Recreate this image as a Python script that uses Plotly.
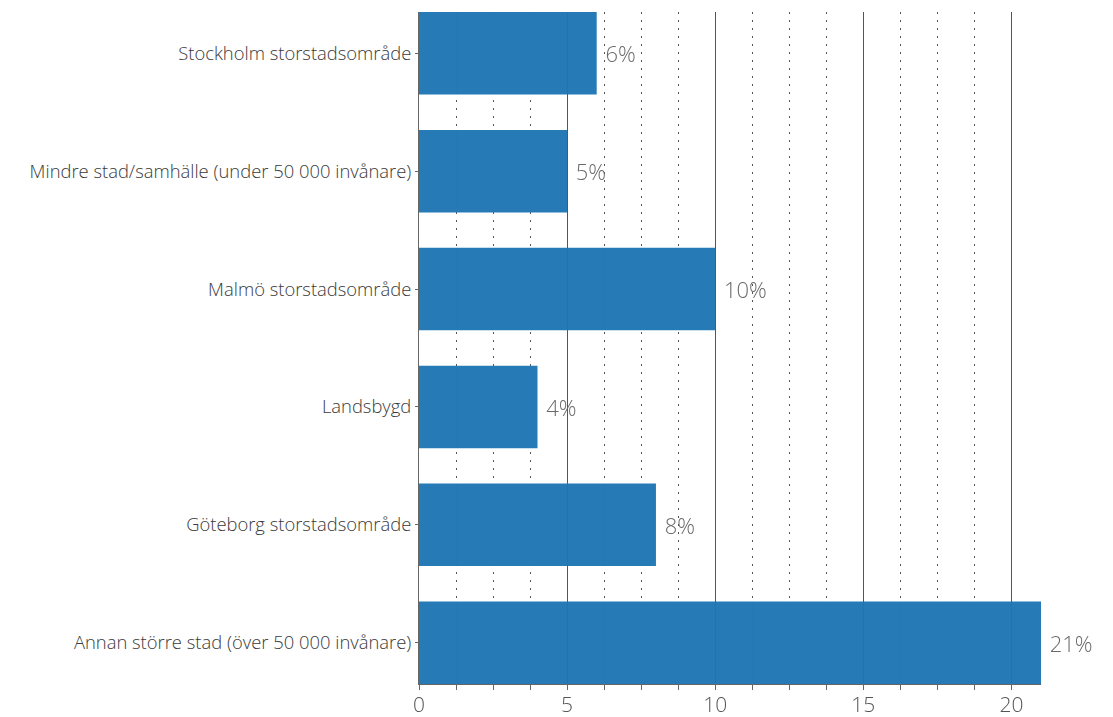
import plotly.graph_objects as go

# Share of respondents per type of residential area (percent), bottom to top
categories = [
    "Annan större stad (över 50 000 invånare)",
    "Göteborg storstadsområde",
    "Landsbygd",
    "Malmö storstadsområde",
    "Mindre stad/samhälle (under 50 000 invånare)",
    "Stockholm storstadsområde",
]
values = [21, 8, 4, 10, 5, 6]
x_ticks = [0, 5, 10, 15, 20]

FONT = "Open Sans"

fig = go.Figure(
    go.Bar(
        y=categories,
        x=values,
        orientation="h",
        marker=dict(color="#1f77b4", line=dict(width=0)),
        opacity=0.97,
        texttemplate="\u00a0%{x}%",
        textposition="outside",
        textfont=dict(family=FONT, size=22, color="#666666", weight=300),
        cliponaxis=False,
        hoverinfo="skip",
    )
)

fig.update_layout(
    width=1113,
    height=717,
    margin=dict(l=419, r=72, t=12, b=33),
    plot_bgcolor="white",
    paper_bgcolor="white",
    bargap=0.3,
    showlegend=False,
    font=dict(family=FONT, color="#444444", weight=300),
)

fig.update_xaxes(
    range=[0, 21],
    tickvals=x_ticks,
    ticks="outside",
    ticklen=5,
    tickcolor="#666666",
    tickfont=dict(family=FONT, size=21, color="#555555", weight=300),
    ticklabelstandoff=-3,
    showline=True,
    linecolor="#666666",
    linewidth=1,
    showgrid=True,
    gridcolor="#555555",
    gridwidth=1,
    zeroline=False,
    automargin=False,
    minor=dict(
        dtick=1.25,
        tick0=0,
        showgrid=True,
        griddash="2px,6px",
        gridcolor="#555555",
        gridwidth=1,
        ticks="outside",
        ticklen=5,
        tickcolor="#666666",
    ),
)

fig.update_yaxes(
    categoryorder="array",
    categoryarray=categories,
    range=[-0.35, 5.35],
    ticks="outside",
    ticklen=3,
    tickcolor="#666666",
    tickfont=dict(family=FONT, size=18.4, color="#3a3a3a", weight=300),
    showline=True,
    linecolor="#666666",
    linewidth=1,
    showgrid=False,
    automargin=False,
)

fig.write_html("out.html")
